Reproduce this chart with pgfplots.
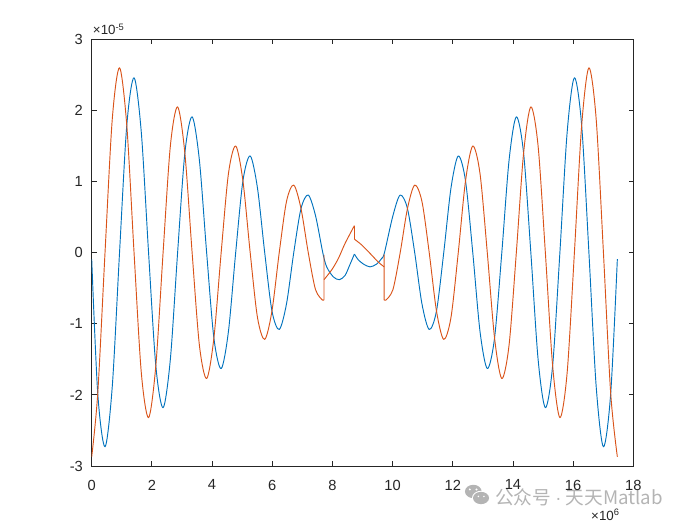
\documentclass[border=0pt]{standalone}
\usepackage{fontspec}
\setmainfont{Liberation Sans}
\newfontfamily\cjk{Noto Sans CJK SC}
\usepackage{pgfplots}
\pgfplotsset{compat=1.18}
\definecolor{mblue}{RGB}{0,114,189}
\definecolor{morange}{RGB}{217,83,25}
\definecolor{axgray}{RGB}{38,38,38}
\definecolor{wmgray}{RGB}{180,180,180}

\pgfplotsset{
  bl/.style={color=mblue, line width=0.7pt, smooth, no markers, line join=round},
  orc/.style={color=morange, line width=0.7pt, smooth, no markers, line join=round},
  orv/.style={color=morange, line width=0.7pt, sharp plot, no markers, line join=round},
}

\begin{document}
\begin{tikzpicture}
% 1 px of the reference = 0.75pt, origin at the axis box south west
\useasboundingbox (-68.775pt,-44.25pt) rectangle (456.225pt,349.5pt);

% watermark
\fill[wmgray] (286.2pt,-19.1pt) ellipse (6.25pt and 5pt);
\fill[white] (292pt,-24pt) ellipse (6.8pt and 5.4pt);
\fill[wmgray] (292pt,-24pt) ellipse (6pt and 4.6pt);
\fill[white] (283.6pt,-17.6pt) circle (0.8pt) (288.6pt,-17.6pt) circle (0.8pt);
\fill[white] (290pt,-22.8pt) circle (0.65pt) (294.2pt,-22.8pt) circle (0.65pt);
\node[anchor=west, inner sep=0pt, text=wmgray, font=\cjk\fontsize{14}{16}\selectfont]
  at (302.5pt,-23.25pt) {公众号 {\normalfont ·} 天天Matlab};

\begin{axis}[
  at={(0pt,0pt)}, anchor=south west,
  width=406.2pt, height=320pt, scale only axis,
  xmin=0, xmax=18, ymin=-3, ymax=3,
  xtick={0,2,...,18}, ytick={-3,-2,...,3},
  scaled ticks=false,
  tick align=inside,
  major tick length=3.6pt,
  axis line style={color=axgray, line width=0.6pt},
  every tick/.style={color=axgray, line width=0.6pt},
  ticklabel style={font=\fontsize{11}{13}\selectfont, text=axgray},
  xticklabel style={yshift=-6.8pt},
  yticklabel style={xshift=-3.1pt},
  /pgf/number format/assume math mode=true,
]
% blue, left part up to the cusp
\addplot[bl] coordinates {
  (0,-0.09) (0.201,-1.98) (0.4425,-2.73) (0.684,-1.88) (0.925,0)
  (1.166,1.79) (1.4075,2.46) (1.649,1.69) (1.89,0)
  (2.131,-1.59) (2.3725,-2.18) (2.614,-1.50) (2.855,0)
  (3.096,1.40) (3.3375,1.91) (3.579,1.30) (3.82,0)
  (4.061,-1.20) (4.3025,-1.63) (4.544,-1.11) (4.785,0)
  (5.026,1.01) (5.2675,1.36) (5.509,0.91) (5.75,0)
  (5.991,-0.82) (6.2325,-1.08) (6.474,-0.72) (6.715,0)
  (6.956,0.62) (7.1975,0.81) (7.439,0.52) (7.68,0)
  (7.81,-0.20) (8.03,-0.34) (8.23,-0.38) (8.42,-0.32)
  (8.58,-0.17) (8.73,-0.02)};
% blue, right part from the cusp
\addplot[bl] coordinates {
  (8.73,-0.02) (8.86,-0.10) (9.03,-0.16) (9.25,-0.20) (9.47,-0.16)
  (9.64,-0.08) (9.73,0)
  (10.011,0.52) (10.2525,0.81) (10.494,0.62) (10.735,0)
  (10.976,-0.72) (11.2175,-1.08) (11.459,-0.82) (11.70,0)
  (11.941,0.91) (12.1825,1.36) (12.424,1.01) (12.665,0)
  (12.906,-1.11) (13.1475,-1.63) (13.389,-1.20) (13.63,0)
  (13.871,1.30) (14.1125,1.91) (14.354,1.40) (14.595,0)
  (14.836,-1.50) (15.0775,-2.18) (15.319,-1.59) (15.56,0)
  (15.801,1.69) (16.0425,2.46) (16.284,1.79) (16.525,0)
  (16.766,-1.88) (17.0075,-2.73) (17.249,-1.98) (17.47,-0.09)};

% orange, left part
\addplot[orc] coordinates {
  (0,-2.87) (0.201,-1.98) (0.4425,0) (0.684,1.88) (0.925,2.60)
  (1.166,1.79) (1.4075,0) (1.649,-1.69) (1.89,-2.32)
  (2.131,-1.59) (2.3725,0) (2.614,1.50) (2.855,2.05)
  (3.096,1.40) (3.3375,0) (3.579,-1.30) (3.82,-1.77)
  (4.061,-1.20) (4.3025,0) (4.544,1.11) (4.785,1.50)
  (5.026,1.01) (5.2675,0) (5.509,-0.91) (5.75,-1.22)
  (5.991,-0.82) (6.2325,0) (6.474,0.72) (6.715,0.95)
  (6.956,0.62) (7.1975,0) (7.439,-0.52) (7.68,-0.67)};
\addplot[orv] coordinates {(7.68,-0.67) (7.72,-0.665) (7.72,-0.03)};
% orange, middle
\addplot[orc] coordinates {
  (7.72,-0.38) (7.98,-0.24) (8.20,-0.08) (8.42,0.13) (8.73,0.38)};
\addplot[orv] coordinates {(8.73,0.38) (8.73,0.19)};
\addplot[orc] coordinates {
  (8.73,0.19) (8.97,0.11) (9.25,-0.01) (9.52,-0.13) (9.72,-0.20)};
\addplot[orv] coordinates {(9.72,-0.20) (9.72,-0.03) (9.72,-0.665) (9.77,-0.67)};
% orange, right part
\addplot[orc] coordinates {
  (9.77,-0.67) (10.011,-0.52) (10.2525,0) (10.494,0.62) (10.735,0.95)
  (10.976,0.72) (11.2175,0) (11.459,-0.82) (11.70,-1.22)
  (11.941,-0.91) (12.1825,0) (12.424,1.01) (12.665,1.50)
  (12.906,1.11) (13.1475,0) (13.389,-1.20) (13.63,-1.77)
  (13.871,-1.30) (14.1125,0) (14.354,1.40) (14.595,2.05)
  (14.836,1.50) (15.0775,0) (15.319,-1.59) (15.56,-2.32)
  (15.801,-1.69) (16.0425,0) (16.284,1.79) (16.525,2.60)
  (16.766,1.88) (17.0075,0) (17.249,-1.98) (17.47,-2.87)};
\end{axis}

% axis multipliers
\node[anchor=base west, inner sep=0pt, text=axgray, font=\fontsize{10}{12}\selectfont]
  at (0.75pt,323.25pt) {×10\textsuperscript{-5}};
\node[anchor=base east, inner sep=0pt, text=axgray, font=\fontsize{10}{12}\selectfont]
  at (396.2pt,-40.5pt) {×10\textsuperscript{6}};
\end{tikzpicture}
\end{document}
